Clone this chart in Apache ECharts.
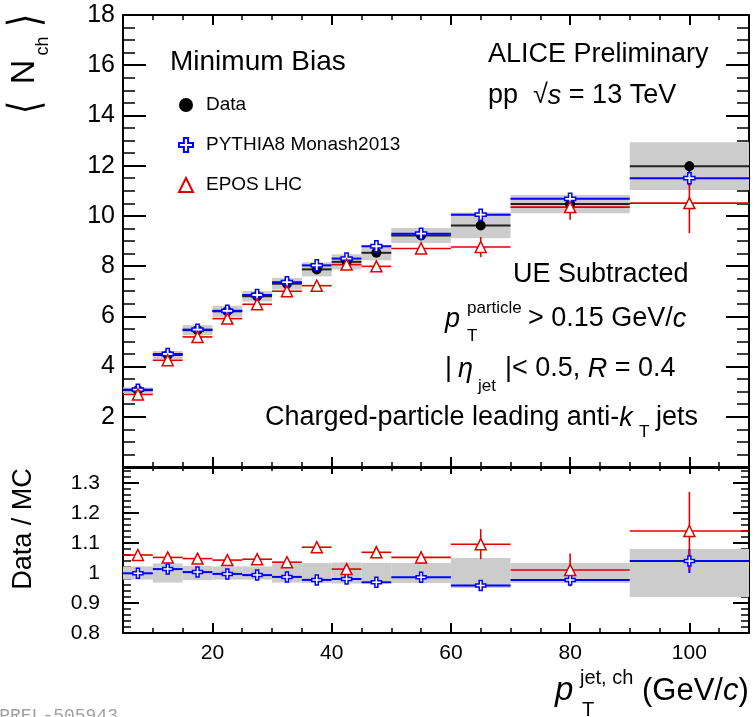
<!DOCTYPE html>
<html><head><meta charset="utf-8">
<script src="https://cdn.jsdelivr.net/npm/echarts@6/dist/echarts.min.js"></script>
<style>html,body{margin:0;padding:0;background:#fff}#c{width:754px;height:717px}</style>
</head><body><div id="c"></div>
<script>
// ---- data ----
const binLow    = [5,10,15,20,25,30,35,40,45,50,60,70,90];
const binHigh   = [10,15,20,25,30,35,40,45,50,60,70,90,110];
const binCenter = [7.5,12.5,17.5,22.5,27.5,32.5,37.5,42.5,47.5,55,65,80,100];
const dataNch   = [3.06,4.46,5.45,6.20,6.80,7.30,7.87,8.17,8.53,9.22,9.62,10.47,11.98];
const dataSys   = [0.11,0.16,0.20,0.22,0.21,0.23,0.28,0.30,0.30,0.30,0.51,0.36,0.95];
const dataStat  = [0.02,0.02,0.03,0.03,0.04,0.05,0.05,0.06,0.07,0.08,0.10,0.12,0.20];
const pythiaNch = [3.08,4.50,5.47,6.22,6.85,7.36,8.03,8.30,8.79,9.29,10.05,10.68,11.50];
const pythiaStat= [0.01,0.01,0.02,0.02,0.02,0.03,0.03,0.04,0.05,0.06,0.08,0.10,0.30];
const eposNch   = [2.89,4.25,5.18,5.91,6.48,7.00,7.22,8.06,7.99,8.70,8.76,10.35,10.51];
const eposStat  = [0.05,0.05,0.06,0.07,0.08,0.09,0.10,0.12,0.14,0.17,0.40,0.50,1.20];
const ratioSys     = [0.022,0.032,0.024,0.022,0.022,0.032,0.033,0.035,0.034,0.033,0.050,0.033,0.080];
const ratioPythia  = [0.999,1.013,1.003,0.997,0.993,0.987,0.977,0.980,0.969,0.986,0.958,0.977,1.040];
const ratioPythiaErr=[0.003,0.003,0.004,0.004,0.005,0.006,0.006,0.007,0.008,0.010,0.012,0.015,0.040];
const ratioEpos    = [1.060,1.052,1.048,1.043,1.046,1.036,1.086,1.013,1.069,1.052,1.096,1.010,1.140];
const ratioEposErr = [0.008,0.008,0.009,0.010,0.012,0.014,0.015,0.016,0.020,0.020,0.050,0.055,0.130];
const xMajorTicks = [20,40,60,80,100];

// ---- style ----
const FONT = '"Liberation Sans", Arial, Helvetica, sans-serif';
const BLUE = '#0000ff', RED = '#e00000', BLACK = '#222222', GREY = '#cccccc';
const crossPath = 'path://M3.5,0H6.5V3.5H10V6.5H6.5V10H3.5V6.5H0V3.5H3.5Z';

const chart = echarts.init(document.getElementById('c'));

const G0 = {left:123, top:15, width:626, height:452};
const G1 = {left:123, top:468, width:626, height:165};

function xAxisPair(gridIndex, position, majLen, minLen, labels) {
  const base = {type:'value', gridIndex, position, min:5, max:110,
    axisLine:{show:true, onZero:false, lineStyle:{color:'#000', width:2}},
    splitLine:{show:false}};
  return [
    Object.assign({}, base, {interval:5,
      axisTick:{show:true, inside:true, length:minLen, lineStyle:{color:'#000', width:1.5}},
      axisLabel:{show:false}}),
    Object.assign({}, base, {
      axisTick:{show:true, inside:true, length:majLen, customValues:xMajorTicks, lineStyle:{color:'#000', width:2}},
      axisLabel: labels ? {show:true, customValues:xMajorTicks, fontSize:21, fontFamily:FONT, color:'#000', margin:10}
                        : {show:false}})
  ];
}
const xAxes = [].concat(
  xAxisPair(0,'bottom',10,5,false),
  xAxisPair(0,'top',10,5,false),
  xAxisPair(1,'bottom',10,5,true),
  xAxisPair(1,'top',6,3,false)
);

function yTop(position, labels) {
  return {type:'value', gridIndex:0, position, min:0, max:18, interval:2,
    axisLine:{show:true, onZero:false, lineStyle:{color:'#000', width:2}},
    axisTick:{show:true, inside:true, length:23, lineStyle:{color:'#000', width:2}},
    minorTick:{show:true, splitNumber:4, length:12, lineStyle:{color:'#000', width:1.5}},
    splitLine:{show:false}, minorSplitLine:{show:false},
    axisLabel: labels ? {show:true, fontSize:25, fontFamily:FONT, color:'#000', margin:8,
      formatter: v => v === 0 ? '' : String(v)} : {show:false}};
}
function yBotPair(position, labels) {
  const base = {type:'value', gridIndex:1, position, min:0.8, max:1.35,
    axisLine:{show:true, onZero:false, lineStyle:{color:'#000', width:2}},
    splitLine:{show:false}};
  return [
    Object.assign({}, base, {interval:0.02,
      axisTick:{show:true, inside:true, length:8, lineStyle:{color:'#000', width:1.5}},
      axisLabel:{show:false}}),
    Object.assign({}, base, {interval:0.1,
      axisTick:{show:true, inside:true, length:16, lineStyle:{color:'#000', width:2}},
      axisLabel: labels ? {show:true, fontSize:21, fontFamily:FONT, color:'#000', margin:23,
        formatter: v => (v > 1.32 ? '' : String(Math.round(v*10)/10))} : {show:false}})
  ];
}
const yAxes = [yTop('left', true), yTop('right', false)].concat(
  yBotPair('left', true), yBotPair('right', false));

function boxRender(params, api) {
  const a = api.coord([api.value(0), api.value(3)]);
  const b = api.coord([api.value(1), api.value(2)]);
  return {type:'rect', shape:{x:a[0], y:a[1], width:b[0]-a[0], height:b[1]-a[1]},
    style:{fill:GREY}};
}
function errRender(color, width) {
  return function(params, api) {
    const lo = api.value(0), hi = api.value(1), c = api.value(2), v = api.value(3), e = api.value(4);
    const a = api.coord([lo, v]), b = api.coord([hi, v]);
    const t = api.coord([c, v + e]), u = api.coord([c, v - e]);
    return {type:'group', children:[
      {type:'line', shape:{x1:a[0], y1:a[1], x2:b[0], y2:b[1]}, style:{stroke:color, lineWidth:width}},
      {type:'line', shape:{x1:t[0], y1:t[1], x2:u[0], y2:u[1]}, style:{stroke:color, lineWidth:width}}
    ]};
  };
}
const boxData = (vals, sys) => binLow.map((lo,i) => [lo, binHigh[i], vals[i]-sys[i], vals[i]+sys[i]]);
const errData = (vals, err) => binLow.map((lo,i) => [lo, binHigh[i], binCenter[i], vals[i], err[i]]);
const ptData  = (vals) => binCenter.map((x,i) => [x, vals[i]]);
const ones = binCenter.map(() => 1);

const series = [
  {type:'custom', name:'sysTop', xAxisIndex:1, yAxisIndex:0, renderItem:boxRender,
    encode:{x:[0,1], y:[2,3]}, data:boxData(dataNch, dataSys), z:1, silent:true},
  {type:'custom', name:'dataErr', xAxisIndex:1, yAxisIndex:0, renderItem:errRender(BLACK,2),
    encode:{x:[0,1], y:3}, data:errData(dataNch, dataStat), z:2, silent:true},
  {type:'custom', name:'pythiaErr', xAxisIndex:1, yAxisIndex:0, renderItem:errRender(BLUE,2),
    encode:{x:[0,1], y:3}, data:errData(pythiaNch, pythiaStat), z:2, silent:true},
  {type:'custom', name:'eposErr', xAxisIndex:1, yAxisIndex:0, renderItem:errRender(RED,1.6),
    encode:{x:[0,1], y:3}, data:errData(eposNch, eposStat), z:2, silent:true},
  {type:'scatter', name:'Data', xAxisIndex:1, yAxisIndex:0, symbol:'circle', symbolSize:10,
    itemStyle:{color:'#000', opacity:1}, data:ptData(dataNch), z:3},
  {type:'scatter', name:'PYTHIA8 Monash2013', xAxisIndex:1, yAxisIndex:0, symbol:crossPath, symbolSize:11,
    itemStyle:{color:'#fff', borderColor:BLUE, borderWidth:1.5, opacity:1}, data:ptData(pythiaNch), z:4},
  {type:'scatter', name:'EPOS LHC', xAxisIndex:1, yAxisIndex:0, symbol:'triangle', symbolSize:11,
    itemStyle:{color:'#fff', borderColor:RED, borderWidth:1.5, opacity:1}, data:ptData(eposNch), z:5},
  {type:'custom', name:'sysRatio', xAxisIndex:5, yAxisIndex:3, renderItem:boxRender,
    encode:{x:[0,1], y:[2,3]}, data:boxData(ones, ratioSys), z:1, silent:true},
  {type:'custom', name:'pythiaRatioErr', xAxisIndex:5, yAxisIndex:3, renderItem:errRender(BLUE,2),
    encode:{x:[0,1], y:3}, data:errData(ratioPythia, ratioPythiaErr), z:2, silent:true},
  {type:'custom', name:'eposRatioErr', xAxisIndex:5, yAxisIndex:3, renderItem:errRender(RED,1.6),
    encode:{x:[0,1], y:3}, data:errData(ratioEpos, ratioEposErr), z:2, silent:true},
  {type:'scatter', name:'PYTHIA8 / Data', xAxisIndex:5, yAxisIndex:3, symbol:crossPath, symbolSize:10,
    itemStyle:{color:'#fff', borderColor:BLUE, borderWidth:1.5, opacity:1}, data:ptData(ratioPythia), z:4},
  {type:'scatter', name:'EPOS / Data', xAxisIndex:5, yAxisIndex:3, symbol:'triangle', symbolSize:11,
    itemStyle:{color:'#fff', borderColor:RED, borderWidth:1.5, opacity:1}, data:ptData(ratioEpos), z:5}
];

function T(text, x, y, size, o) {
  o = o || {};
  return {type:'text', x, y, rotation:o.rot||0, scaleX:o.sx||1, scaleY:o.sy||1, z:100, silent:true,
    style:{text, fill:o.fill||'#000', fontSize:size, fontFamily:o.family||FONT,
      fontWeight:o.weight||'normal',
      fontStyle:o.italic?'italic':'normal', align:o.align||'left', verticalAlign:o.va||'middle',
      rich:o.rich}};
}
function richStyles(size) {
  return {n:{fontSize:size, fontFamily:FONT, fontStyle:'normal', fill:'#000'},
          i:{fontSize:size, fontFamily:FONT, fontStyle:'italic', fill:'#000'}};
}
const R = Math.PI/2;
const BRK = '"DejaVu Sans ExtraLight", "DejaVu Sans", sans-serif';
const graphic = [
  T('\u27E8', 28, 107, 34, {rot:R, align:'center', sy:1.3, weight:200, family:BRK}),
  T('N', 25, 72, 34, {rot:R, align:'center'}),
  T('ch', 43, 46, 18, {rot:R, align:'center'}),
  T('\u27E9', 28, 20, 34, {rot:R, align:'center', sy:1.3, weight:200, family:BRK}),
  T('Data / MC', 24, 529, 27, {rot:R, align:'center'}),
  T('Minimum Bias', 170, 62, 28),
  T('ALICE Preliminary', 488, 55, 27),
  T('{n|pp  \u221A}{i|s}{n| = 13 TeV}', 488, 96, 27, {rich:richStyles(27)}),
  T('UE Subtracted', 513, 275, 27),
  T('p', 445, 319, 27, {italic:true}),
  T('particle', 467, 308, 17),
  T('T', 467, 336, 17),
  T('{n|> 0.15 GeV/}{i|c}', 528, 319, 27, {rich:richStyles(27)}),
  T('|', 445, 369, 27),
  T('\u03B7', 458, 369, 27, {italic:true}),
  T('jet', 478, 386, 17),
  T('{n||< 0.5, }{i|R}{n| = 0.4}', 505, 369, 27, {rich:richStyles(27)}),
  T('{n|Charged-particle leading anti-}{i|k}', 265, 418, 27, {rich:richStyles(27)}),
  T('T', 639, 432, 17),
  T('jets', 656, 418, 27),
  T('p', 555, 691, 33, {italic:true}),
  T('jet, ch', 580, 678, 20),
  T('T', 582, 710, 20),
  T('{n|(GeV/}{i|c}{n|)}', 642, 691, 31, {rich:richStyles(31)}),
  T('ALI-PREL-505943', -44, 707, 18, {va:'top', fill:'#a0a0a0', family:'"Liberation Mono", monospace'})
];

chart.setOption({
  animation:false,
  backgroundColor:'#fff',
  grid:[G0, G1],
  xAxis:xAxes,
  yAxis:yAxes,
  legend:{data:['Data','PYTHIA8 Monash2013','EPOS LHC'], orient:'vertical', left:178, top:95,
    itemWidth:14, itemHeight:14, itemGap:20, selectedMode:false, padding:0,
    textStyle:{fontSize:19, fontFamily:FONT, color:'#000', lineHeight:20, padding:[0,0,0,8]}},
  series, graphic
});
</script></body></html>
